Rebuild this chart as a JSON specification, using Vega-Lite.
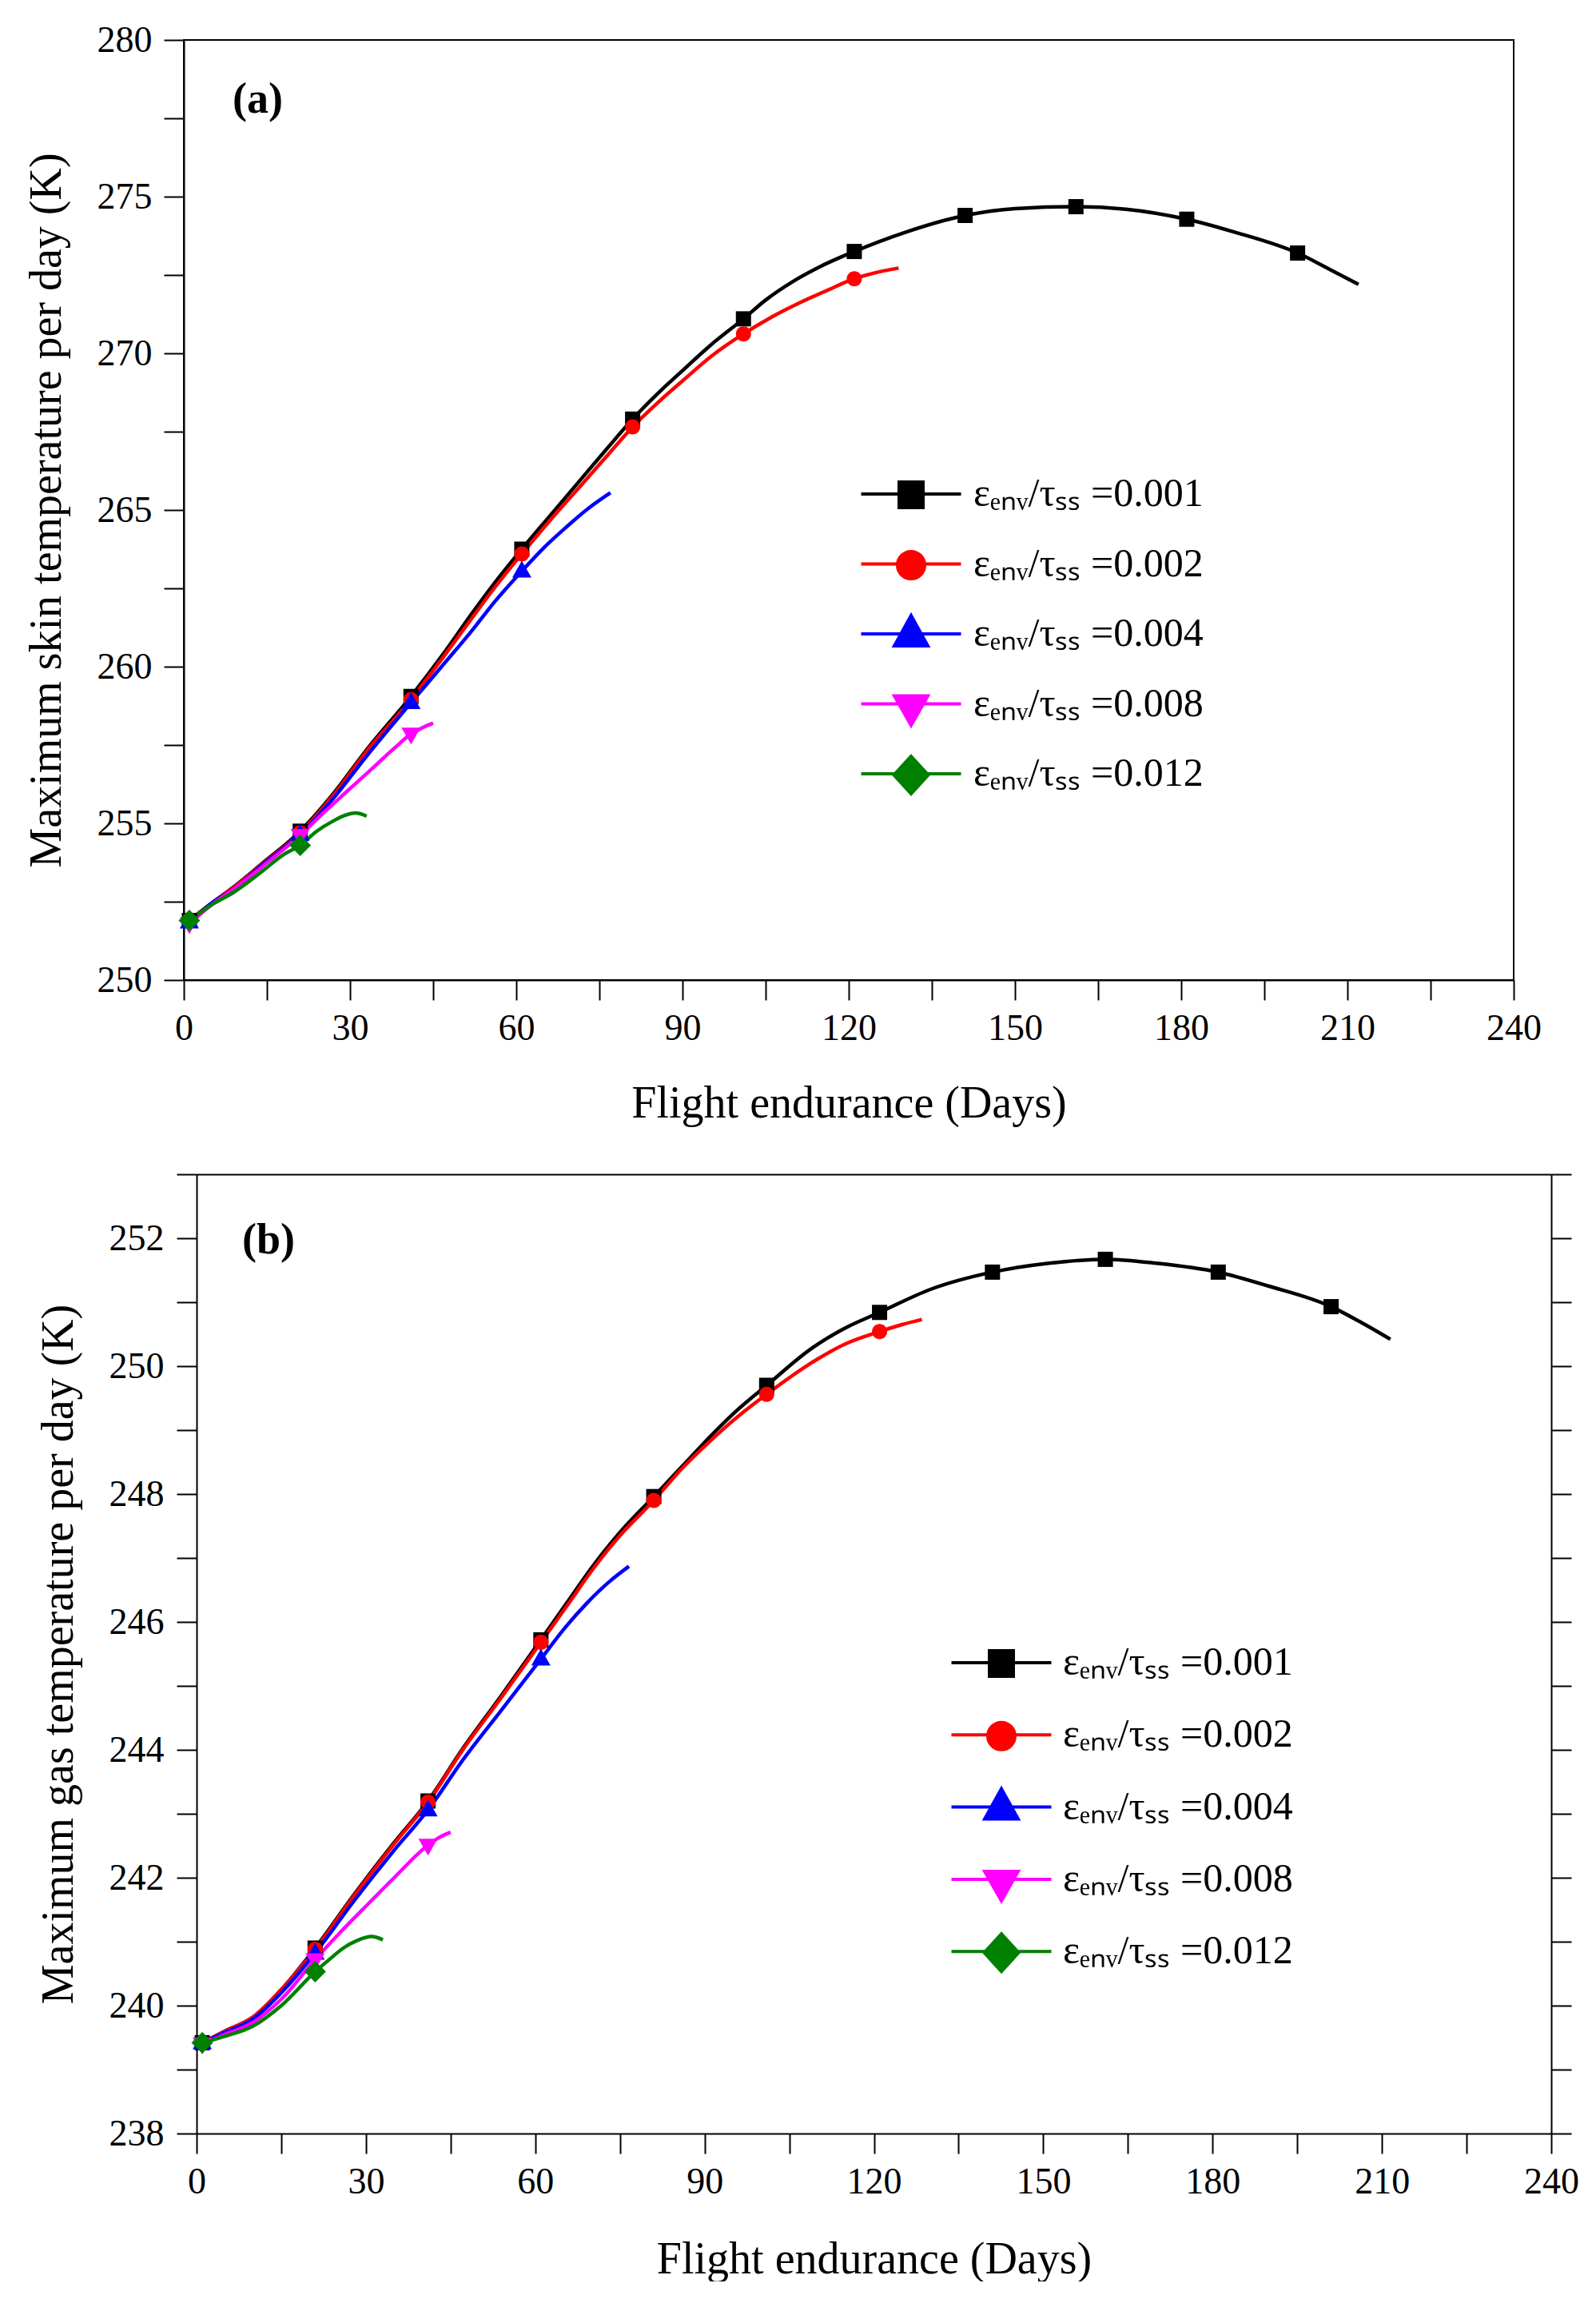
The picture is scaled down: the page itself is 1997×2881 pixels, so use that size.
{
  "$schema": "https://vega.github.io/schema/vega-lite/v6.json",
  "background": "white",
  "padding": {"left": 29, "top": 26, "right": 0, "bottom": 0},
  "spacing": 37,
  "config": {
    "font": "Liberation Serif",
    "view": {"stroke": "black", "strokeWidth": 2},
    "axis": {
      "grid": false,
      "domainColor": "black",
      "domainWidth": 2,
      "tickColor": "black",
      "tickWidth": 2,
      "tickSize": 25,
      "labelFont": "Liberation Serif",
      "labelFontSize": 46,
      "labelColor": "black",
      "labelOverlap": false,
      "labelFlush": false,
      "titleFont": "Liberation Serif",
      "titleFontSize": 56,
      "titleFontWeight": "normal",
      "titleColor": "black",
      "format": "d"
    },
    "legend": {"labelFont": "Liberation Serif", "gridAlign": "all"},
    "title": {"font": "Liberation Serif", "color": "black"}
  },
  "resolve": {"legend": {"color": "independent"}},
  "vconcat": [
    {
      "width": 1664,
      "height": 1176,
      "title": {"text": "(a)", "anchor": "start", "frame": "group", "baseline": "top", "offset": -125, "dx": 61, "fontSize": 54, "fontWeight": "bold"},
      "data": {"values": [
        {"ratio": "0.001", "day": 1, "T": 251.9, "kind": "m"},
        {"ratio": "0.001", "day": 5, "T": 252.45},
        {"ratio": "0.001", "day": 9, "T": 252.97},
        {"ratio": "0.001", "day": 14, "T": 253.7},
        {"ratio": "0.001", "day": 21, "T": 254.75, "kind": "m"},
        {"ratio": "0.001", "day": 27, "T": 255.95},
        {"ratio": "0.001", "day": 33, "T": 257.35},
        {"ratio": "0.001", "day": 41, "T": 259.05, "kind": "m"},
        {"ratio": "0.001", "day": 47, "T": 260.45},
        {"ratio": "0.001", "day": 52, "T": 261.7},
        {"ratio": "0.001", "day": 56, "T": 262.65},
        {"ratio": "0.001", "day": 61, "T": 263.75, "kind": "m"},
        {"ratio": "0.001", "day": 66, "T": 264.8},
        {"ratio": "0.001", "day": 72, "T": 266.05},
        {"ratio": "0.001", "day": 76, "T": 266.88},
        {"ratio": "0.001", "day": 81, "T": 267.9, "kind": "m"},
        {"ratio": "0.001", "day": 86, "T": 268.8},
        {"ratio": "0.001", "day": 90, "T": 269.45},
        {"ratio": "0.001", "day": 95, "T": 270.25},
        {"ratio": "0.001", "day": 101, "T": 271.1, "kind": "m"},
        {"ratio": "0.001", "day": 105, "T": 271.7},
        {"ratio": "0.001", "day": 110, "T": 272.3},
        {"ratio": "0.001", "day": 115, "T": 272.78},
        {"ratio": "0.001", "day": 121, "T": 273.25, "kind": "m"},
        {"ratio": "0.001", "day": 130, "T": 273.85},
        {"ratio": "0.001", "day": 141, "T": 274.4, "kind": "m"},
        {"ratio": "0.001", "day": 150, "T": 274.62},
        {"ratio": "0.001", "day": 161, "T": 274.68, "kind": "m"},
        {"ratio": "0.001", "day": 170, "T": 274.6},
        {"ratio": "0.001", "day": 181, "T": 274.28, "kind": "m"},
        {"ratio": "0.001", "day": 190, "T": 273.85},
        {"ratio": "0.001", "day": 201, "T": 273.2, "kind": "m"},
        {"ratio": "0.001", "day": 207, "T": 272.66},
        {"ratio": "0.001", "day": 212, "T": 272.2},
        {"ratio": "0.002", "day": 1, "T": 251.9, "kind": "m"},
        {"ratio": "0.002", "day": 5, "T": 252.45},
        {"ratio": "0.002", "day": 9, "T": 252.95},
        {"ratio": "0.002", "day": 14, "T": 253.68},
        {"ratio": "0.002", "day": 21, "T": 254.7, "kind": "m"},
        {"ratio": "0.002", "day": 27, "T": 255.9},
        {"ratio": "0.002", "day": 33, "T": 257.3},
        {"ratio": "0.002", "day": 41, "T": 258.95, "kind": "m"},
        {"ratio": "0.002", "day": 47, "T": 260.35},
        {"ratio": "0.002", "day": 52, "T": 261.55},
        {"ratio": "0.002", "day": 56, "T": 262.5},
        {"ratio": "0.002", "day": 61, "T": 263.6, "kind": "m"},
        {"ratio": "0.002", "day": 66, "T": 264.65},
        {"ratio": "0.002", "day": 72, "T": 265.85},
        {"ratio": "0.002", "day": 76, "T": 266.65},
        {"ratio": "0.002", "day": 81, "T": 267.65, "kind": "m"},
        {"ratio": "0.002", "day": 86, "T": 268.5},
        {"ratio": "0.002", "day": 90, "T": 269.12},
        {"ratio": "0.002", "day": 95, "T": 269.88},
        {"ratio": "0.002", "day": 101, "T": 270.62, "kind": "m"},
        {"ratio": "0.002", "day": 106, "T": 271.15},
        {"ratio": "0.002", "day": 111, "T": 271.6},
        {"ratio": "0.002", "day": 116, "T": 272.0},
        {"ratio": "0.002", "day": 121, "T": 272.38, "kind": "m"},
        {"ratio": "0.002", "day": 125, "T": 272.58},
        {"ratio": "0.002", "day": 129, "T": 272.72},
        {"ratio": "0.004", "day": 1, "T": 251.85, "kind": "m"},
        {"ratio": "0.004", "day": 5, "T": 252.45},
        {"ratio": "0.004", "day": 9, "T": 252.9},
        {"ratio": "0.004", "day": 14, "T": 253.65},
        {"ratio": "0.004", "day": 21, "T": 254.65, "kind": "m"},
        {"ratio": "0.004", "day": 27, "T": 255.8},
        {"ratio": "0.004", "day": 33, "T": 257.15},
        {"ratio": "0.004", "day": 41, "T": 258.85, "kind": "m"},
        {"ratio": "0.004", "day": 47, "T": 260.1},
        {"ratio": "0.004", "day": 52, "T": 261.15},
        {"ratio": "0.004", "day": 56, "T": 262.05},
        {"ratio": "0.004", "day": 61, "T": 263.05, "kind": "m"},
        {"ratio": "0.004", "day": 65, "T": 263.8},
        {"ratio": "0.004", "day": 69, "T": 264.45},
        {"ratio": "0.004", "day": 73, "T": 265.05},
        {"ratio": "0.004", "day": 77, "T": 265.55},
        {"ratio": "0.008", "day": 1, "T": 251.8, "kind": "m"},
        {"ratio": "0.008", "day": 5, "T": 252.4},
        {"ratio": "0.008", "day": 9, "T": 252.9},
        {"ratio": "0.008", "day": 14, "T": 253.6},
        {"ratio": "0.008", "day": 21, "T": 254.62, "kind": "m"},
        {"ratio": "0.008", "day": 25, "T": 255.3},
        {"ratio": "0.008", "day": 29, "T": 255.95},
        {"ratio": "0.008", "day": 34, "T": 256.75},
        {"ratio": "0.008", "day": 38, "T": 257.4},
        {"ratio": "0.008", "day": 41, "T": 257.85, "kind": "m"},
        {"ratio": "0.008", "day": 43, "T": 258.05},
        {"ratio": "0.008", "day": 45, "T": 258.2},
        {"ratio": "0.012", "day": 1, "T": 251.9, "kind": "m"},
        {"ratio": "0.012", "day": 5, "T": 252.4},
        {"ratio": "0.012", "day": 9, "T": 252.8},
        {"ratio": "0.012", "day": 14, "T": 253.45},
        {"ratio": "0.012", "day": 18, "T": 254.0},
        {"ratio": "0.012", "day": 21, "T": 254.3, "kind": "m"},
        {"ratio": "0.012", "day": 24, "T": 254.75},
        {"ratio": "0.012", "day": 27, "T": 255.08},
        {"ratio": "0.012", "day": 29, "T": 255.25},
        {"ratio": "0.012", "day": 31, "T": 255.33},
        {"ratio": "0.012", "day": 33, "T": 255.23}
      ]},
      "layer": [
        {
          "mark": {"type": "line", "interpolate": "monotone", "strokeWidth": 4.5},
          "encoding": {
            "x": {
              "field": "day", "type": "quantitative",
              "scale": {"domain": [0, 240], "nice": false},
              "axis": {
                "values": [0, 15, 30, 45, 60, 75, 90, 105, 120, 135, 150, 165, 180, 195, 210, 225, 240],
                "labelExpr": "datum.value % 30 === 0 ? datum.label : ''",
                "labelPadding": 13,
                "title": "Flight endurance (Days)",
                "titlePadding": 44,
                "encode": {"ticks": {"update": {"y2": {"signal": "datum.value % 30 === 0 ? 25 : 13"}}}}
              }
            },
            "y": {
              "field": "T", "type": "quantitative",
              "scale": {"domain": [250, 280], "nice": false, "zero": false},
              "axis": {
                "values": [250, 252.5, 255, 257.5, 260, 262.5, 265, 267.5, 270, 272.5, 275, 277.5, 280],
                "labelExpr": "datum.value % 5 === 0 ? datum.label : ''",
                "labelPadding": 15,
                "title": "Maximum skin temperature per day (K)",
                "titlePadding": 34,
                "encode": {"ticks": {"update": {"x2": {"signal": "datum.value % 5 === 0 ? -25 : -13"}}}}
              }
            },
            "color": {
              "field": "ratio", "type": "nominal",
              "scale": {"domain": ["0.001", "0.002", "0.004", "0.008", "0.012"], "range": ["#000000", "#ff0000", "#0000ff", "#ff00ff", "#008000"]},
              "legend": {
                "orient": "none", "legendX": 883, "legendY": 541,
                "title": null, "padding": 0, "gridAlign": "all",
                "symbolSize": 2500, "rowPadding": 21.5, "labelOffset": 51,
                "labelFont": "Liberation Serif", "labelFontSize": 50, "labelColor": "black", "labelLimit": 2000,
                "labelExpr": "'εₑₙᵥ/τₛₛ =' + datum.label",
                "encode": {"symbols": {"update": {
                  "shape": {"signal": "datum.value === '0.001' ? 'M-2.5,0H2.5M-0.6,-0.6H0.6V0.68H-0.6Z' : datum.value === '0.002' ? 'M-2.5,0H2.5M-0.68,0.06A0.68,0.68,0,1,0,0.68,0.06A0.68,0.68,0,1,0,-0.68,0.06Z' : datum.value === '0.004' ? 'M-2.5,0H2.5M0,-0.92L0.84,0.6L-0.84,0.6Z' : datum.value === '0.008' ? 'M-2.5,0H2.5M-0.84,-0.4L0.84,-0.4L0,1.08Z' : 'M-2.5,0H2.5M0,-0.88L0.86,0.06L0,1L-0.86,0.06Z'"},
                  "fill": {"signal": "datum.value === '0.001' ? '#000000' : datum.value === '0.002' ? '#ff0000' : datum.value === '0.004' ? '#0000ff' : datum.value === '0.008' ? '#ff00ff' : '#008000'"},
                  "stroke": {"signal": "datum.value === '0.001' ? '#000000' : datum.value === '0.002' ? '#ff0000' : datum.value === '0.004' ? '#0000ff' : datum.value === '0.008' ? '#ff00ff' : '#008000'"},
                  "strokeWidth": {"value": 4},
                  "size": {"value": 2500},
                  "opacity": {"value": 1}
                }}}
              }
            }
          }
        },
        {
          "transform": [{"filter": "datum.kind === 'm'"}],
          "mark": {"type": "point", "filled": true, "opacity": 1, "size": 400},
          "encoding": {
            "x": {"field": "day", "type": "quantitative"},
            "y": {"field": "T", "type": "quantitative"},
            "shape": {
              "field": "ratio", "type": "nominal",
              "scale": {"domain": ["0.001", "0.002", "0.004", "0.008", "0.012"], "range": ["M-0.95,-0.95H0.95V0.95H-0.95Z", "M-0.95,0A0.95,0.95,0,1,0,0.95,0A0.95,0.95,0,1,0,-0.95,0Z", "M0,-1.3L1.2,0.8L-1.2,0.8Z", "M-1.2,-0.8L1.2,-0.8L0,1.3Z", "M0,-1.35L1.35,0L0,1.35L-1.35,0Z"]},
              "legend": null
            },
            "color": {"field": "ratio", "type": "nominal"}
          }
        }
      ]
    },
    {
      "width": 1711,
      "height": 1200,
      "view": {"stroke": null},
      "title": {"text": "(b)", "anchor": "start", "frame": "group", "baseline": "top", "offset": -133, "dx": 73, "fontSize": 54, "fontWeight": "bold"},
      "data": {"values": [
        {"ratio": "0.001", "day": 1, "T": 239.42, "kind": "m"},
        {"ratio": "0.001", "day": 5, "T": 239.6},
        {"ratio": "0.001", "day": 10, "T": 239.82},
        {"ratio": "0.001", "day": 15, "T": 240.25},
        {"ratio": "0.001", "day": 21, "T": 240.9, "kind": "m"},
        {"ratio": "0.001", "day": 28, "T": 241.75},
        {"ratio": "0.001", "day": 35, "T": 242.55},
        {"ratio": "0.001", "day": 41, "T": 243.2, "kind": "m"},
        {"ratio": "0.001", "day": 47, "T": 244.0},
        {"ratio": "0.001", "day": 54, "T": 244.85},
        {"ratio": "0.001", "day": 61, "T": 245.72, "kind": "m"},
        {"ratio": "0.001", "day": 66, "T": 246.35},
        {"ratio": "0.001", "day": 70, "T": 246.85},
        {"ratio": "0.001", "day": 75, "T": 247.4},
        {"ratio": "0.001", "day": 81, "T": 247.96, "kind": "m"},
        {"ratio": "0.001", "day": 86, "T": 248.43},
        {"ratio": "0.001", "day": 91, "T": 248.9},
        {"ratio": "0.001", "day": 96, "T": 249.33},
        {"ratio": "0.001", "day": 101, "T": 249.7, "kind": "m"},
        {"ratio": "0.001", "day": 109, "T": 250.28},
        {"ratio": "0.001", "day": 115, "T": 250.6},
        {"ratio": "0.001", "day": 121, "T": 250.84, "kind": "m"},
        {"ratio": "0.001", "day": 130, "T": 251.2},
        {"ratio": "0.001", "day": 141, "T": 251.47, "kind": "m"},
        {"ratio": "0.001", "day": 151, "T": 251.61},
        {"ratio": "0.001", "day": 161, "T": 251.67, "kind": "m"},
        {"ratio": "0.001", "day": 170, "T": 251.61},
        {"ratio": "0.001", "day": 181, "T": 251.47, "kind": "m"},
        {"ratio": "0.001", "day": 190, "T": 251.25},
        {"ratio": "0.001", "day": 201, "T": 250.93, "kind": "m"},
        {"ratio": "0.001", "day": 206, "T": 250.7},
        {"ratio": "0.001", "day": 211.5, "T": 250.42},
        {"ratio": "0.002", "day": 1, "T": 239.42, "kind": "m"},
        {"ratio": "0.002", "day": 5, "T": 239.6},
        {"ratio": "0.002", "day": 10, "T": 239.82},
        {"ratio": "0.002", "day": 15, "T": 240.25},
        {"ratio": "0.002", "day": 21, "T": 240.88, "kind": "m"},
        {"ratio": "0.002", "day": 28, "T": 241.73},
        {"ratio": "0.002", "day": 35, "T": 242.53},
        {"ratio": "0.002", "day": 41, "T": 243.18, "kind": "m"},
        {"ratio": "0.002", "day": 47, "T": 243.98},
        {"ratio": "0.002", "day": 54, "T": 244.82},
        {"ratio": "0.002", "day": 61, "T": 245.68, "kind": "m"},
        {"ratio": "0.002", "day": 66, "T": 246.3},
        {"ratio": "0.002", "day": 70, "T": 246.8},
        {"ratio": "0.002", "day": 75, "T": 247.35},
        {"ratio": "0.002", "day": 81, "T": 247.9, "kind": "m"},
        {"ratio": "0.002", "day": 86, "T": 248.4},
        {"ratio": "0.002", "day": 91, "T": 248.83},
        {"ratio": "0.002", "day": 96, "T": 249.22},
        {"ratio": "0.002", "day": 101, "T": 249.56, "kind": "m"},
        {"ratio": "0.002", "day": 110, "T": 250.11},
        {"ratio": "0.002", "day": 115, "T": 250.35},
        {"ratio": "0.002", "day": 121, "T": 250.54, "kind": "m"},
        {"ratio": "0.002", "day": 125, "T": 250.65},
        {"ratio": "0.002", "day": 128.5, "T": 250.73},
        {"ratio": "0.004", "day": 1, "T": 239.42, "kind": "m"},
        {"ratio": "0.004", "day": 5, "T": 239.58},
        {"ratio": "0.004", "day": 10, "T": 239.79},
        {"ratio": "0.004", "day": 15, "T": 240.2},
        {"ratio": "0.004", "day": 21, "T": 240.82, "kind": "m"},
        {"ratio": "0.004", "day": 28, "T": 241.65},
        {"ratio": "0.004", "day": 35, "T": 242.43},
        {"ratio": "0.004", "day": 41, "T": 243.06, "kind": "m"},
        {"ratio": "0.004", "day": 47, "T": 243.82},
        {"ratio": "0.004", "day": 54, "T": 244.62},
        {"ratio": "0.004", "day": 61, "T": 245.42, "kind": "m"},
        {"ratio": "0.004", "day": 65, "T": 245.88},
        {"ratio": "0.004", "day": 69, "T": 246.28},
        {"ratio": "0.004", "day": 73, "T": 246.62},
        {"ratio": "0.004", "day": 76.6, "T": 246.87},
        {"ratio": "0.008", "day": 1, "T": 239.4, "kind": "m"},
        {"ratio": "0.008", "day": 5, "T": 239.55},
        {"ratio": "0.008", "day": 10, "T": 239.74},
        {"ratio": "0.008", "day": 15, "T": 240.1},
        {"ratio": "0.008", "day": 21, "T": 240.72, "kind": "m"},
        {"ratio": "0.008", "day": 25.5, "T": 241.15},
        {"ratio": "0.008", "day": 30.5, "T": 241.6},
        {"ratio": "0.008", "day": 35, "T": 242.0},
        {"ratio": "0.008", "day": 41, "T": 242.51, "kind": "m"},
        {"ratio": "0.008", "day": 43, "T": 242.63},
        {"ratio": "0.008", "day": 45, "T": 242.71},
        {"ratio": "0.012", "day": 1, "T": 239.42, "kind": "m"},
        {"ratio": "0.012", "day": 5, "T": 239.52},
        {"ratio": "0.012", "day": 10, "T": 239.68},
        {"ratio": "0.012", "day": 15, "T": 240.0},
        {"ratio": "0.012", "day": 21, "T": 240.53, "kind": "m"},
        {"ratio": "0.012", "day": 23.5, "T": 240.72},
        {"ratio": "0.012", "day": 26, "T": 240.9},
        {"ratio": "0.012", "day": 28.5, "T": 241.02},
        {"ratio": "0.012", "day": 31, "T": 241.08},
        {"ratio": "0.012", "day": 33, "T": 241.03}
      ]},
      "resolve": {"axis": {"x": "independent", "y": "independent"}},
      "layer": [
        {
          "mark": {"type": "line", "interpolate": "monotone", "strokeWidth": 4.5},
          "encoding": {
            "x": {
              "field": "day", "type": "quantitative",
              "scale": {"domain": [0, 240], "nice": false, "range": [16, 1711]},
              "axis": {
                "values": [0, 15, 30, 45, 60, 75, 90, 105, 120, 135, 150, 165, 180, 195, 210, 225, 240],
                "labelExpr": "datum.value % 30 === 0 ? datum.label : ''",
                "labelPadding": 13,
                "title": "Flight endurance (Days)",
                "titlePadding": 47,
                "titleX": 863.5,
                "encode": {"ticks": {"update": {"y2": {"signal": "datum.value % 30 === 0 ? 25 : 13"}}}}
              }
            },
            "y": {
              "field": "T", "type": "quantitative",
              "scale": {"domain": [238, 253], "nice": false, "zero": false},
              "axis": {
                "offset": -16,
                "values": [238, 239, 240, 241, 242, 243, 244, 245, 246, 247, 248, 249, 250, 251, 252, 253],
                "labelExpr": "datum.value % 2 === 0 ? datum.label : ''",
                "labelPadding": 16,
                "title": "Maximum gas temperature per day (K)",
                "titlePadding": 34,
                "encode": {"ticks": {"update": {"x2": {"signal": "datum.value % 2 === 0 ? -25 : -13"}}}}
              }
            },
            "color": {
              "field": "ratio", "type": "nominal",
              "scale": {"domain": ["0.001", "0.002", "0.004", "0.008", "0.012"], "range": ["#000000", "#ff0000", "#0000ff", "#ff00ff", "#008000"]},
              "legend": {
                "orient": "none", "legendX": 996, "legendY": 584,
                "title": null, "padding": 0, "gridAlign": "all",
                "symbolSize": 2500, "rowPadding": 24.3, "labelOffset": 50,
                "labelFont": "Liberation Serif", "labelFontSize": 50, "labelColor": "black", "labelLimit": 2000,
                "labelExpr": "'εₑₙᵥ/τₛₛ =' + datum.label",
                "encode": {"symbols": {"update": {
                  "shape": {"signal": "datum.value === '0.001' ? 'M-2.5,0H2.5M-0.6,-0.6H0.6V0.68H-0.6Z' : datum.value === '0.002' ? 'M-2.5,0H2.5M-0.68,0.06A0.68,0.68,0,1,0,0.68,0.06A0.68,0.68,0,1,0,-0.68,0.06Z' : datum.value === '0.004' ? 'M-2.5,0H2.5M0,-0.92L0.84,0.6L-0.84,0.6Z' : datum.value === '0.008' ? 'M-2.5,0H2.5M-0.84,-0.4L0.84,-0.4L0,1.08Z' : 'M-2.5,0H2.5M0,-0.88L0.86,0.06L0,1L-0.86,0.06Z'"},
                  "fill": {"signal": "datum.value === '0.001' ? '#000000' : datum.value === '0.002' ? '#ff0000' : datum.value === '0.004' ? '#0000ff' : datum.value === '0.008' ? '#ff00ff' : '#008000'"},
                  "stroke": {"signal": "datum.value === '0.001' ? '#000000' : datum.value === '0.002' ? '#ff0000' : datum.value === '0.004' ? '#0000ff' : datum.value === '0.008' ? '#ff00ff' : '#008000'"},
                  "strokeWidth": {"value": 4},
                  "size": {"value": 2500},
                  "opacity": {"value": 1}
                }}}
              }
            }
          }
        },
        {
          "transform": [{"filter": "datum.kind === 'm'"}],
          "mark": {"type": "point", "filled": true, "opacity": 1, "size": 400},
          "encoding": {
            "x": {
              "field": "day", "type": "quantitative",
              "axis": {"orient": "top", "ticks": false, "labels": false, "title": null, "domain": true}
            },
            "y": {
              "field": "T", "type": "quantitative",
              "axis": {
                "orient": "right",
                "values": [238, 239, 240, 241, 242, 243, 244, 245, 246, 247, 248, 249, 250, 251, 252, 253],
                "labels": false, "domain": true, "title": null,
                "encode": {"ticks": {"update": {"x2": {"signal": "datum.value % 2 === 0 ? -25 : -13"}}}}
              }
            },
            "shape": {
              "field": "ratio", "type": "nominal",
              "scale": {"domain": ["0.001", "0.002", "0.004", "0.008", "0.012"], "range": ["M-0.95,-0.95H0.95V0.95H-0.95Z", "M-0.95,0A0.95,0.95,0,1,0,0.95,0A0.95,0.95,0,1,0,-0.95,0Z", "M0,-1.3L1.2,0.8L-1.2,0.8Z", "M-1.2,-0.8L1.2,-0.8L0,1.3Z", "M0,-1.35L1.35,0L0,1.35L-1.35,0Z"]},
              "legend": null
            },
            "color": {"field": "ratio", "type": "nominal"}
          }
        }
      ]
    }
  ]
}
